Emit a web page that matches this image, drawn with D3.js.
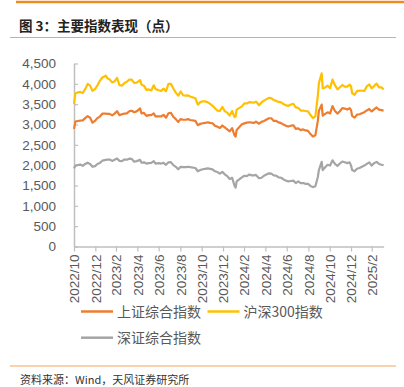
<!DOCTYPE html>
<html>
<head>
<meta charset="utf-8">
<script src="https://cdn.jsdelivr.net/npm/d3@7/dist/d3.min.js"></script>
<style>
  body { margin: 0; background: #fff; }
  svg { display: block; }
</style>
</head>
<body>
<svg id="chart" width="404" height="387"></svg>
<script>
// weekly closes
const dates = [
  "2022-10-31","2022-11-04","2022-11-11","2022-11-18","2022-11-25","2022-12-02","2022-12-09","2022-12-16","2022-12-23","2022-12-30",
  "2023-01-06","2023-01-13","2023-01-20","2023-01-30","2023-02-03","2023-02-10","2023-02-17","2023-02-24","2023-03-03","2023-03-10",
  "2023-03-17","2023-03-24","2023-03-31","2023-04-07","2023-04-14","2023-04-21","2023-04-28","2023-05-08","2023-05-12","2023-05-19",
  "2023-05-26","2023-06-02","2023-06-09","2023-06-16","2023-06-21","2023-06-30","2023-07-07","2023-07-14","2023-07-21","2023-07-28",
  "2023-08-04","2023-08-11","2023-08-18","2023-08-25","2023-09-01","2023-09-08","2023-09-15","2023-09-22","2023-09-28","2023-10-13",
  "2023-10-20","2023-10-27","2023-11-03","2023-11-10","2023-11-17","2023-11-24","2023-12-01","2023-12-08","2023-12-15","2023-12-22",
  "2023-12-29","2024-01-05","2024-01-12","2024-01-19","2024-01-26","2024-02-02","2024-02-05","2024-02-08","2024-02-23","2024-03-01",
  "2024-03-08","2024-03-15","2024-03-22","2024-03-29","2024-04-03","2024-04-12","2024-04-19","2024-04-26","2024-05-10","2024-05-17",
  "2024-05-24","2024-05-31","2024-06-07","2024-06-14","2024-06-21","2024-06-28","2024-07-05","2024-07-12","2024-07-19","2024-07-26",
  "2024-08-02","2024-08-09","2024-08-16","2024-08-23","2024-08-30","2024-09-06","2024-09-13","2024-09-20","2024-09-27","2024-09-30",
  "2024-10-08","2024-10-11","2024-10-18","2024-10-25","2024-11-01","2024-11-08","2024-11-15","2024-11-22","2024-11-29","2024-12-06",
  "2024-12-13","2024-12-20","2024-12-27","2024-12-31","2025-01-03","2025-01-10","2025-01-17","2025-01-24","2025-02-07","2025-02-14",
  "2025-02-21","2025-02-28","2025-03-07","2025-03-14","2025-03-21","2025-03-28","2025-04-03"
];

const sse = [
  2893, 3071, 3087, 3097, 3101, 3156, 3206, 3167, 3045, 3089,
  3158, 3195, 3265, 3270, 3263, 3260, 3224, 3267, 3328, 3230,
  3251, 3266, 3273, 3327, 3338, 3301, 3323, 3395, 3272, 3284,
  3213, 3231, 3231, 3273, 3198, 3202, 3197, 3238, 3168, 3276,
  3288, 3189, 3132, 3064, 3133, 3117, 3117, 3132, 3110, 3088,
  2983, 3017, 3030, 3038, 3054, 3041, 3031, 2970, 2942, 2914,
  2975, 2929, 2882, 2832, 2910, 2730, 2702, 2866, 3004, 3027,
  3046, 3055, 3048, 3041, 3069, 3019, 3065, 3088, 3154, 3154,
  3089, 3087, 3051, 3033, 2998, 2967, 2950, 2971, 2982, 2891,
  2905, 2862, 2879, 2855, 2842, 2765, 2704, 2736, 3088, 3336,
  3489, 3217, 3261, 3300, 3272, 3452, 3331, 3268, 3326, 3404,
  3392, 3368, 3400, 3352, 3211, 3169, 3241, 3253, 3303, 3346,
  3379, 3321, 3373, 3419, 3364, 3352, 3342
];

const csi300 = [
  3508, 3767, 3789, 3801, 3775, 3870, 3998, 3954, 3828, 3872,
  3964, 4074, 4156, 4201, 4141, 4106, 4035, 4061, 4146, 3968,
  3958, 4017, 4051, 4103, 4102, 4023, 4029, 4090, 3979, 3955,
  3851, 3863, 3837, 3963, 3875, 3842, 3825, 3884, 3820, 4000,
  3999, 3884, 3783, 3710, 3812, 3719, 3708, 3716, 3690, 3644,
  3488, 3550, 3570, 3568, 3545, 3511, 3459, 3400, 3340, 3334,
  3431, 3329, 3292, 3219, 3330, 3180, 3203, 3365, 3446, 3520,
  3516, 3550, 3542, 3537, 3564, 3475, 3542, 3586, 3655, 3648,
  3601, 3580, 3555, 3544, 3503, 3470, 3460, 3490, 3510, 3420,
  3409, 3343, 3344, 3331, 3321, 3232, 3160, 3201, 3704, 4017,
  4256, 3887, 3910, 3956, 3890, 4104, 3968, 3866, 3916, 3973,
  3933, 3929, 3982, 3935, 3775, 3732, 3820, 3836, 3826, 3940,
  3985, 3890, 3945, 4007, 3914, 3915, 3862
];

const szse = [
  1921, 1990, 2005, 2015, 1985, 2030, 2060, 2030, 1960, 1975,
  2030, 2055, 2110, 2130, 2135, 2140, 2105, 2135, 2165, 2105,
  2100, 2140, 2135, 2160, 2155, 2085, 2100, 2130, 2060, 2070,
  2040, 2050, 2055, 2100, 2040, 2050, 2040, 2055, 2010, 2070,
  2075, 2000, 1960, 1900, 1960, 1950, 1950, 1960, 1950, 1930,
  1850, 1880, 1900, 1910, 1920, 1910, 1895, 1850, 1830, 1790,
  1835, 1775, 1730, 1660, 1690, 1490, 1450, 1600, 1700, 1740,
  1730, 1770, 1750, 1750, 1760, 1680, 1690, 1740, 1800, 1790,
  1750, 1740, 1700, 1690, 1650, 1620, 1600, 1610, 1620, 1560,
  1600, 1560, 1560, 1540, 1540, 1490, 1460, 1480, 1710, 1880,
  2080, 1880, 1950, 2010, 1990, 2120, 2030, 1980, 2040, 2090,
  2070, 2050, 2070, 1990, 1880, 1850, 1910, 1930, 1990, 2030,
  2070, 1990, 2050, 2080, 2030, 2010, 2000
];

const tickDates = [
  "2022-10-31","2022-12-31","2023-02-28","2023-04-30","2023-06-30","2023-08-31","2023-10-31","2023-12-31",
  "2024-02-29","2024-04-30","2024-06-30","2024-08-31","2024-10-31","2024-12-31","2025-02-28"
];
const tickLabels = [
  "2022/10","2022/12","2023/2","2023/4","2023/6","2023/8","2023/10","2023/12",
  "2024/2","2024/4","2024/6","2024/8","2024/10","2024/12","2025/2"
];
const yTicks = [0, 500, 1000, 1500, 2000, 2500, 3000, 3500, 4000, 4500];

const seriesNames = ["上证综合指数", "沪深300指数", "深证综合指数"];
const seriesColors = ["#ED7D31", "#FFC000", "#A5A5A5"];

const parse = d3.utcParse("%Y-%m-%d");
const svg = d3.select("#chart");
const axisFont = "'Liberation Sans', Arial, sans-serif";
const cjkFont = "'Noto Sans CJK SC', 'Noto Sans', sans-serif";

// header / footer rules
svg.append("line").attr("x1", 16).attr("x2", 404).attr("y1", 2).attr("y2", 2)
  .attr("stroke", "#F08A24").attr("stroke-width", 2.5);
svg.append("text").attr("x", 19).attr("y", 31)
  .style("font-family", cjkFont).style("font-size", "13.5px").style("font-weight", "bold")
  .attr("fill", "#222").text("图 3：主要指数表现（点）");
svg.append("line").attr("x1", 10).attr("x2", 396).attr("y1", 37.5).attr("y2", 37.5)
  .attr("stroke", "#F5A35F").attr("stroke-width", 1.2);
svg.append("line").attr("x1", 10).attr("x2", 396).attr("y1", 366).attr("y2", 366)
  .attr("stroke", "#F5A35F").attr("stroke-width", 1.2);
svg.append("text").attr("x", 20).attr("y", 384)
  .style("font-family", cjkFont).style("font-size", "11px")
  .attr("fill", "#333").text("资料来源：Wind，天风证券研究所");

const x = d3.scaleUtc()
  .domain([parse("2022-10-31"), parse("2025-04-03")])
  .range([74, 383.6]);
const y = d3.scaleLinear()
  .domain([0, 4500])
  .range([246.5, 63.5]);

const axisColor = "#BFBFBF", labelColor = "#595959";

const gy = svg.append("g").attr("transform", "translate(74,0)")
  .call(d3.axisLeft(y).tickValues(yTicks).tickFormat(d3.format(","))
    .tickSizeInner(-4).tickSizeOuter(0).tickPadding(18));
gy.select(".domain").attr("stroke", axisColor).attr("stroke-width", 1.5);
gy.selectAll(".tick line").attr("stroke", axisColor).attr("stroke-width", 1.2);
gy.selectAll(".tick text").attr("fill", labelColor)
  .style("font-family", axisFont).style("font-size", "13.5px");

const gx = svg.append("g").attr("transform", "translate(0,246.5)")
  .call(d3.axisBottom(x).tickValues(tickDates.map(parse))
    .tickFormat((d, i) => tickLabels[i]).tickSizeInner(5).tickSizeOuter(0));
gx.select(".domain").attr("stroke", axisColor).attr("stroke-width", 1.5);
gx.selectAll(".tick line").attr("stroke", axisColor).attr("stroke-width", 1.2);
gx.selectAll(".tick text")
  .attr("fill", labelColor)
  .style("font-family", axisFont).style("font-size", "13.5px")
  .attr("transform", "rotate(-90)")
  .attr("text-anchor", "end")
  .attr("x", -8).attr("y", 0).attr("dy", "0.36em");

const rows = dates.map((d, i) => ({date: parse(d), v: [sse[i], csi300[i], szse[i]]}));
const drawOrder = [2, 0, 1];
drawOrder.forEach(k => {
  const line = d3.line().x(d => x(d.date)).y(d => y(d.v[k]));
  svg.append("path").datum(rows)
    .attr("fill", "none").attr("stroke", seriesColors[k])
    .attr("stroke-width", 2.2).attr("stroke-linejoin", "round")
    .attr("d", line);
});

// legend
const legendPos = [[81, 311.5], [207.5, 311.5], [81, 337.7]];
seriesNames.forEach((name, k) => {
  const [lx, ly] = legendPos[k];
  svg.append("line").attr("x1", lx).attr("x2", lx + 32).attr("y1", ly).attr("y2", ly)
    .attr("stroke", seriesColors[k]).attr("stroke-width", 2.5);
  svg.append("text").attr("x", lx + 36).attr("y", ly).attr("dy", "0.36em")
    .style("font-family", cjkFont).style("font-size", "14px")
    .attr("fill", labelColor).text(name);
});
</script>
</body>
</html>
